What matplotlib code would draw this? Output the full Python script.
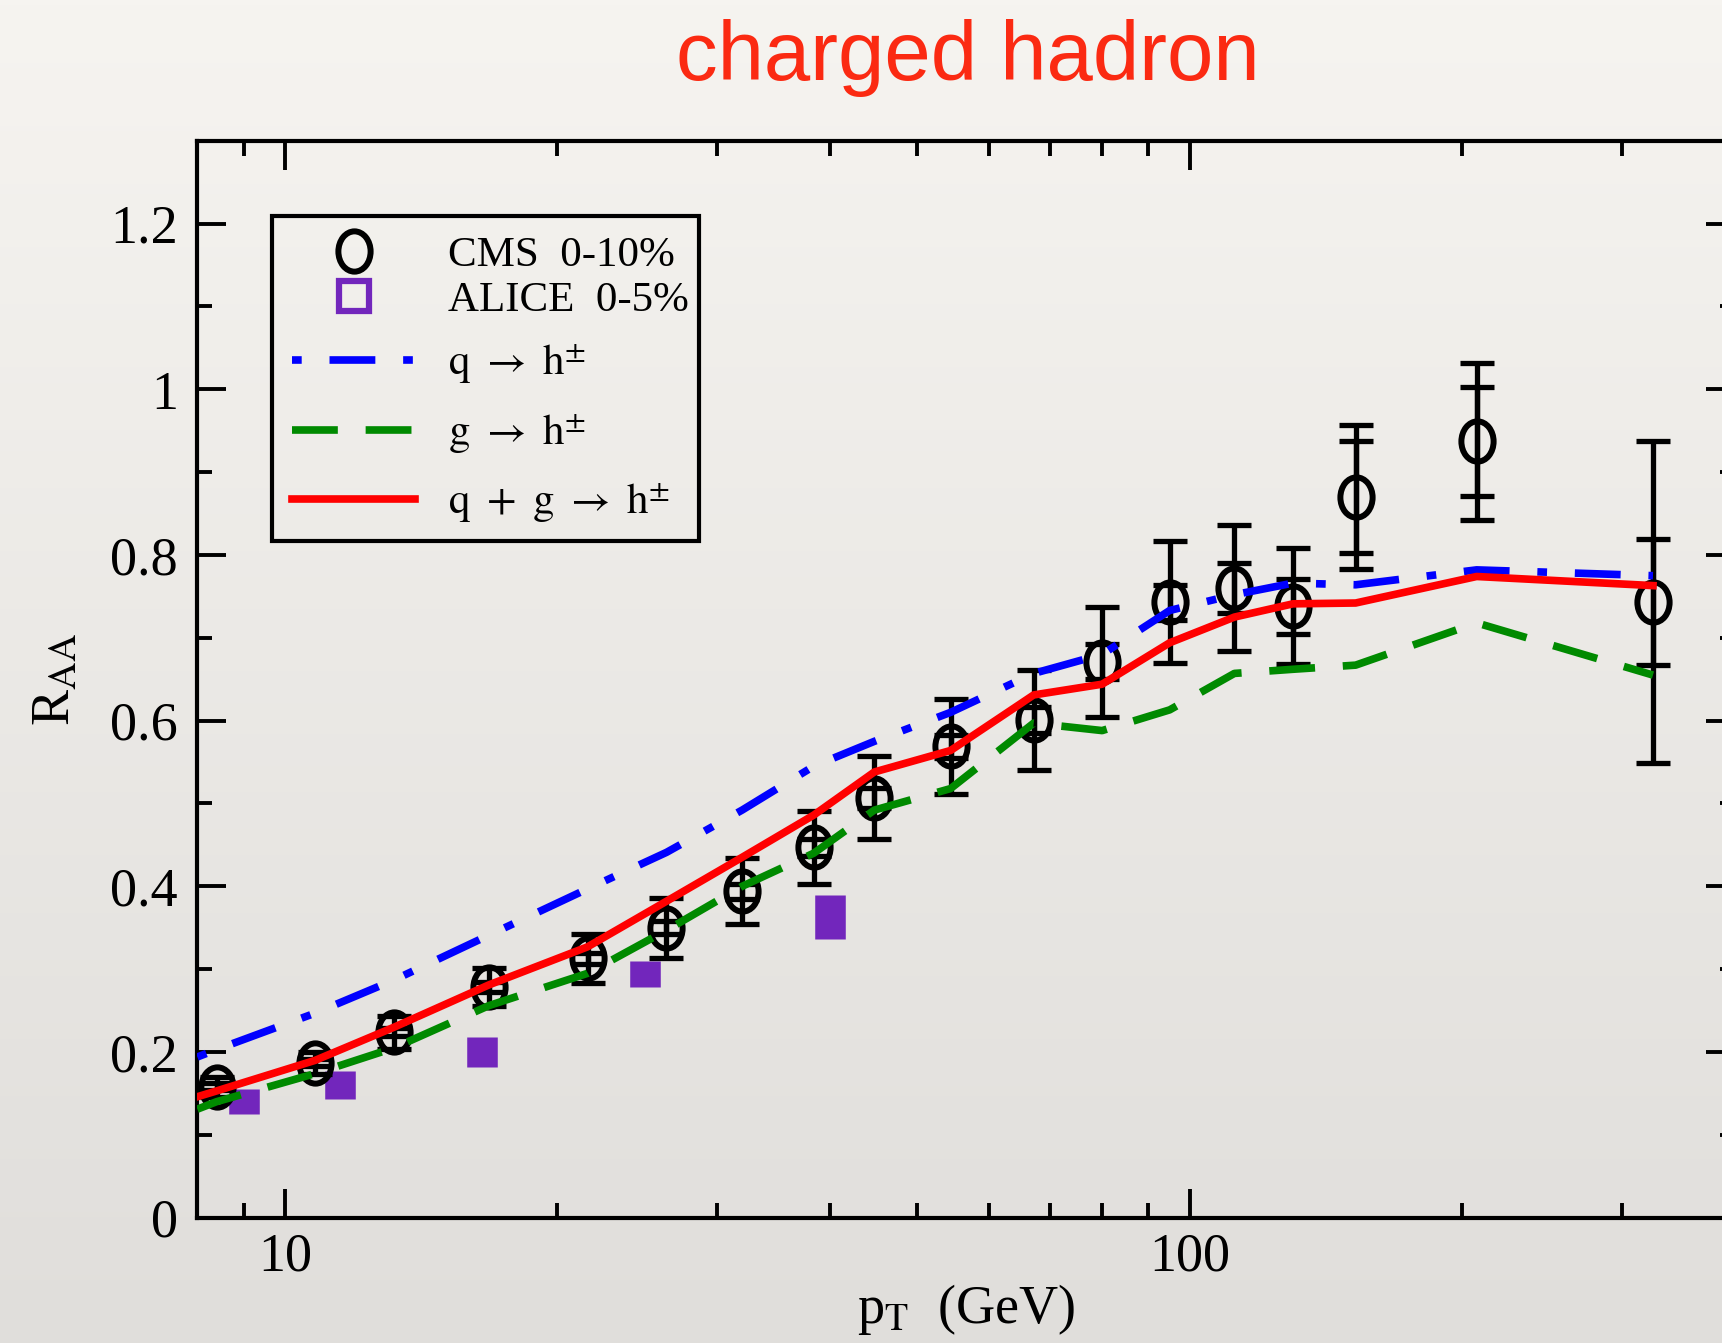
import numpy as np
import matplotlib
matplotlib.use("Agg")
import matplotlib.pyplot as plt
from matplotlib.path import Path
from matplotlib.transforms import Affine2D
from matplotlib.lines import Line2D
from matplotlib.patches import Rectangle
from matplotlib.colors import LinearSegmentedColormap
from matplotlib.ticker import FixedLocator, LogLocator, MultipleLocator, NullFormatter, FuncFormatter

plt.rcParams['font.family'] = ['Liberation Serif', 'DejaVu Serif']
plt.rcParams['mathtext.fontset'] = 'stix'

# CMS 0-10% charged hadron RAA
cms_pt = [8.4, 10.8, 13.2, 16.8, 21.6, 26.4, 32.0, 38.4, 44.8, 54.4,
          67.2, 80.0, 95.0, 112.0, 130.0, 152.5, 207.5, 325.0]
cms_raa = [0.158, 0.187, 0.224, 0.278, 0.313, 0.350, 0.394, 0.447, 0.507, 0.569,
           0.601, 0.671, 0.743, 0.760, 0.738, 0.870, 0.937, 0.743]
cms_stat = [0.004, 0.004, 0.005, 0.006, 0.007, 0.008, 0.009, 0.010, 0.012, 0.014,
            0.016, 0.021, 0.021, 0.030, 0.033, 0.068, 0.066, 0.076]
cms_tot = [0.012, 0.013, 0.020, 0.023, 0.030, 0.036, 0.040, 0.044, 0.050, 0.057,
           0.060, 0.066, 0.074, 0.076, 0.070, 0.087, 0.095, 0.194]

# ALICE 0-5%
alice_pt = [9.0, 11.5, 16.5, 25.0, 40.0]
alice_raa = [0.140, 0.160, 0.200, 0.294, 0.363]
alice_sys = [0.015, 0.017, 0.018, 0.016, 0.027]

# model curves
th_pt = [8.0] + cms_pt
q_raa = [0.194, 0.203, 0.247, 0.287, 0.341, 0.397, 0.441, 0.492, 0.545, 0.575,
         0.610, 0.657, 0.680, 0.733, 0.752, 0.766, 0.764, 0.782, 0.775]
g_raa = [0.131, 0.140, 0.174, 0.205, 0.256, 0.295, 0.347, 0.400, 0.440, 0.492,
         0.518, 0.597, 0.588, 0.613, 0.657, 0.662, 0.667, 0.718, 0.655]
qg_raa = [0.146, 0.153, 0.190, 0.230, 0.281, 0.327, 0.382, 0.435, 0.486, 0.538,
          0.564, 0.631, 0.644, 0.694, 0.725, 0.741, 0.742, 0.774, 0.763]

purple = '#7226bc'
lw = 5.5

fig = plt.figure(figsize=(17.22, 13.43), dpi=100)

# paper-like background
bg = fig.add_axes([0, 0, 1, 1], zorder=-10)
grad = np.linspace(0, 1, 256).reshape(-1, 1)
paper = LinearSegmentedColormap.from_list('paper', ['#f6f4f0', '#e0dedb'])
bg.imshow(grad, cmap=paper, aspect='auto', extent=[0, 1, 0, 1])
bg.axis('off')

ax = fig.add_axes([0.1146, 0.0933, 0.8927, 0.8019])
ax.set_facecolor('none')

ell = Path.unit_circle().transformed(Affine2D().scale(0.8, 1.0))

# ALICE boxes
ax.errorbar(alice_pt, alice_raa, yerr=alice_sys, fmt='none', ecolor=purple,
            elinewidth=22, capsize=0, zorder=2)

# CMS points
ax.errorbar(cms_pt, cms_raa, yerr=cms_tot, fmt='none', ecolor='k',
            elinewidth=3.8, capsize=12.5, capthick=3.8, zorder=3)
ax.errorbar(cms_pt, cms_raa, yerr=cms_stat, fmt='none', ecolor='k',
            elinewidth=3.8, capsize=12.5, capthick=3.8, zorder=3)
ax.plot(cms_pt, cms_raa, ls='none', marker=ell, ms=29, mfc='none', mec='k',
        mew=4.3, zorder=4)

lq, = ax.plot(th_pt, q_raa, color='#0000ff', lw=lw, dashes=(1.27, 3.64, 6.0, 3.64), zorder=5)
lg, = ax.plot(th_pt, g_raa, color='#008a00', lw=lw, dashes=(6.0, 3.64), zorder=5)
lqg, = ax.plot(th_pt, qg_raa, color='#ff0000', lw=lw, zorder=6)

ax.set_xscale('log')
ax.set_xlim(8, 400)
ax.set_ylim(0, 1.3)
ax.xaxis.set_major_locator(FixedLocator([10, 100]))
ax.xaxis.set_minor_locator(LogLocator(base=10, subs=np.arange(2, 10)))
ax.xaxis.set_major_formatter(FuncFormatter(lambda v, p: '%g' % v))
ax.xaxis.set_minor_formatter(NullFormatter())
ax.yaxis.set_major_locator(MultipleLocator(0.2))
ax.yaxis.set_minor_locator(MultipleLocator(0.1))
ax.yaxis.set_major_formatter(FuncFormatter(lambda v, p: '%g' % round(v, 2)))

ax.tick_params(which='both', direction='in', top=True, right=True, width=2.8)
ax.tick_params(which='major', length=21, labelsize=39)
ax.tick_params(which='minor', length=11)
ax.tick_params(axis='x', which='major', pad=10)
ax.tick_params(axis='y', which='major', pad=14)
for s in ax.spines.values():
    s.set_linewidth(3)

ax.set_xlabel(r'p$_{\mathrm{T}}$  (GeV)', fontsize=39)
ax.xaxis.set_label_coords(0.5, -0.06)
ax.set_ylabel(r'R$_{\mathrm{AA}}$', fontsize=39)
ax.yaxis.set_label_coords(-0.075, 0.5)

# legend: two stacked legends inside one frame
h_cms = Line2D([], [], ls='none', marker=ell, ms=29, mfc='none', mec='k', mew=4.3)
h_alice = Line2D([], [], ls='none', marker='s', ms=21, mfc='none', mec=purple, mew=4.5)
leg_kw = dict(loc='upper left', borderaxespad=0, borderpad=0, frameon=False,
              fontsize=31, handlelength=2.855, handletextpad=0.754)
leg1 = ax.legend([h_cms, h_alice], ['CMS  0-10%', 'ALICE  0-5%'],
                 bbox_to_anchor=(0.0619, 0.9115), labelspacing=0.13, **leg_kw)
ax.add_artist(leg1)
leg2 = ax.legend([lq, lg, lqg],
                 [r'$\mathrm{q}\ \rightarrow\ \mathrm{h}^{\pm}$',
                  r'$\mathrm{g}\ \rightarrow\ \mathrm{h}^{\pm}$',
                  r'$\mathrm{q}\ +\ \mathrm{g}\ \rightarrow\ \mathrm{h}^{\pm}$'],
                 bbox_to_anchor=(0.0619, 0.8125), labelspacing=0.6, **leg_kw)
ax.add_patch(Rectangle((0.0485, 0.6283), 0.278, 0.3017, transform=ax.transAxes,
                       fill=False, ec='k', lw=3, zorder=8))

fig.text(0.562, 0.957, 'charged hadron', color='#fb2a12', fontsize=60,
         family='Liberation Sans', ha='center', va='center')

fig.savefig('out.png', dpi=100)
